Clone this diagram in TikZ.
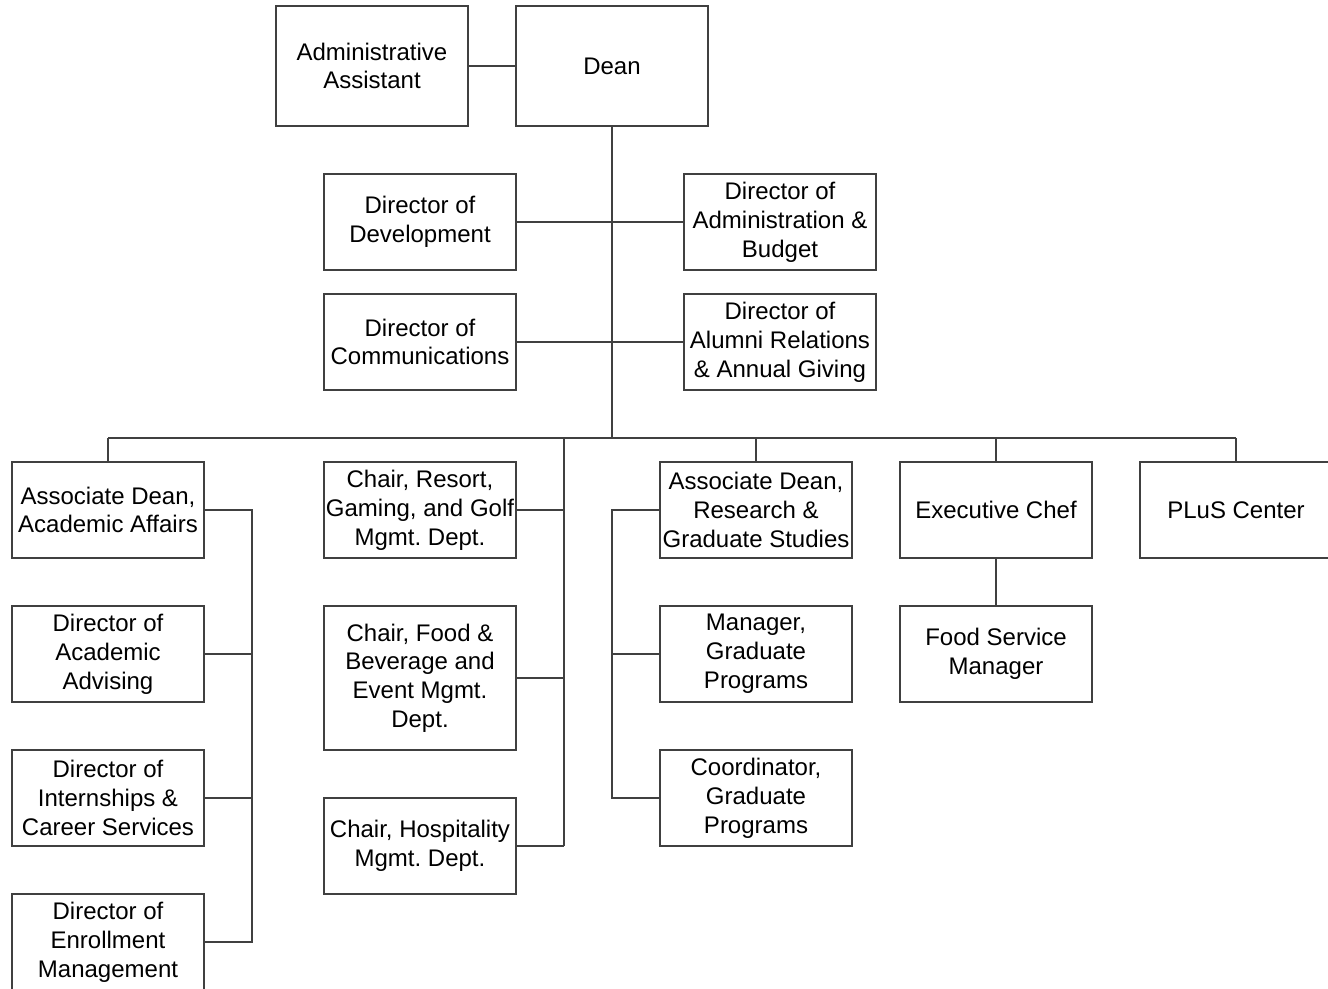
\documentclass[tikz,border=0pt]{standalone}
\usepackage{fontspec}
\setmainfont{Liberation Sans}
\frenchspacing
\begin{document}
\begin{tikzpicture}[x=0.5pt,y=-0.5pt,
  box/.style={draw=lineg, line width=1pt, fill=white, minimum width=96pt, minimum height=48pt, align=center, inner sep=1pt, font=\fontsize{12}{14.4}\selectfont},
  tall/.style={minimum height=60pt},
  taller/.style={minimum height=72pt},
  conn/.style={draw=lineg, line width=1pt}]
\definecolor{lineg}{HTML}{404040}
\useasboundingbox (0,0) rectangle (1328,989);
% nodes
\node[box,tall] (admin) at (372,66) {Administrative\\Assistant};
\node[box,tall] (dean) at (612,66) {Dean};
\node[box] (dev) at (420,222) {Director of\\Development};
\node[box] (budget) at (780,222) {Director of\\Administration \&\\Budget};
\node[box] (comm) at (420,342) {Director of\\Communications};
\node[box] (alumni) at (780,342) {Director of\\Alumni Relations\\\& Annual Giving};
\node[box] (aaa) at (108,510) {Associate Dean,\\Academic Affairs};
\node[box] (advis) at (108,654) {Director of\\Academic\\Advising};
\node[box] (intern) at (108,798) {Director of\\Internships \&\\Career Services};
\node[box] (enroll) at (108,942) {Director of\\Enrollment\\Management};
\node[box] (resort) at (420,510) {Chair, Resort,\\Gaming, and Golf\\Mgmt. Dept.};
\node[box,taller] (food) at (420,678) {Chair, Food \&\\Beverage and\\Event Mgmt.\\Dept.};
\node[box] (hosp) at (420,846) {Chair, Hospitality\\Mgmt. Dept.};
\node[box] (research) at (756,510) {Associate Dean,\\Research \&\\Graduate Studies};
\node[box] (manager) at (756,654) {Manager,\\Graduate\\Programs};
\node[box] (coord) at (756,798) {Coordinator,\\Graduate\\Programs};
\node[box] (chef) at (996,510) {Executive Chef};
\node[box] (fsm) at (996,654) {Food Service\\Manager};
\node[box] (plus) at (1236,510) {PLuS Center};
% coordinates
\coordinate (bus) at (612,438);
\coordinate (busL) at (108,438);
\coordinate (busR) at (1236,438);
\coordinate (chairT) at (564,438);
\coordinate (chairB) at (564,846);
\coordinate (resT) at (612,510);
\coordinate (resB) at (612,798);
\coordinate (aaT) at (252,510);
\coordinate (aaB) at (252,942);
% connectors
\draw[conn] (admin.east) -- (dean.west);
\draw[conn] (dean.south) -- (bus);
\draw[conn] (dev.east) -- (budget.west);
\draw[conn] (comm.east) -- (alumni.west);
\draw[conn] (busL) -- (busR);
\draw[conn] (busL) -- (aaa.north);
\draw[conn] (756,438) -- (research.north);
\draw[conn] (996,438) -- (chef.north);
\draw[conn] (busR) -- (plus.north);
\draw[conn] (chairT) -- (chairB);
\draw[conn] (resort.east) -- (resort.east -| chairT);
\draw[conn] (food.east) -- (food.east -| chairT);
\draw[conn] (hosp.east) -- (chairB);
\draw[conn] (aaa.east) -- (aaT) -- (aaB) -- (enroll.east);
\draw[conn] (advis.east) -- (advis.east -| aaT);
\draw[conn] (intern.east) -- (intern.east -| aaT);
\draw[conn] (research.west) -- (resT) -- (resB) -- (coord.west);
\draw[conn] (manager.west) -- (manager.west -| resT);
\draw[conn] (chef.south) -- (fsm.north);
\end{tikzpicture}
\end{document}
